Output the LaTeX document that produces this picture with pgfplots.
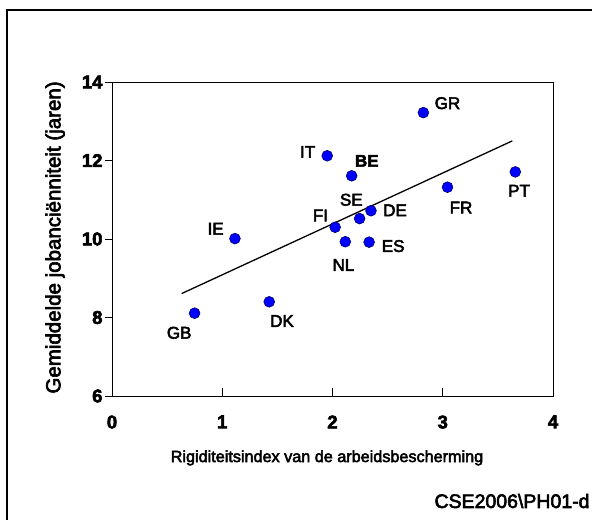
\documentclass[border=0pt]{standalone}
\usepackage{pgfplots}
\pgfplotsset{compat=1.18}
\usepackage{fontspec}
\setmainfont{Liberation Sans}[FakeBold=3]

% Country averages: employment protection index vs. mean job tenure
\pgfplotstableread{
x      y
0.749  8.11
1.426  8.40
1.115  10.01
1.952  12.12
2.174  11.61
2.024  10.30
2.116  9.93
2.246  10.52
2.349  10.72
2.332  9.92
2.824  13.22
3.043  11.32
3.658  11.71
}\tenure

\newcommand{\lbl}{\fontsize{17bp}{20bp}\selectfont}

\begin{document}
\begin{tikzpicture}
\useasboundingbox (0,0) rectangle (592bp,520bp);
\draw[line width=1.6bp] (7bp,-20bp) -- (7bp,510bp) -- (640bp,510bp);
\begin{axis}[
  at={(112bp,124bp)}, anchor=south west,
  scale only axis, width=441bp, height=314bp,
  xmin=0, xmax=4, ymin=6, ymax=14,
  xtick={0,1,2,3,4}, ytick={6,8,10,12,14},
  xtick pos=bottom, ytick pos=left,
  tick align=inside,
  major tick length=7.5bp,
  ytick style={xshift=-7.5bp},
  every tick/.style={black, line width=0.9bp},
  axis line style={line width=0.9bp},
  /pgf/number format/assume math mode=true,
  ticklabel style={font=\bfseries\fontsize{18.5bp}{21bp}\selectfont},
  xticklabel style={yshift=-16bp},
  yticklabel style={xshift=-6bp},
  xlabel={Rigiditeitsindex van de arbeidsbescherming},
  ylabel={Gemiddelde jobanciënniteit (jaren)},
  xlabel style={at={(axis description cs:0.4875,-0.197)}, anchor=center, font=\fontsize{16.2bp}{19bp}\selectfont},
  ylabel style={at={(axis description cs:-0.129,0.505)}, anchor=center, font=\fontsize{20.5bp}{24bp}\selectfont},
  clip=false,
]
% regression line
\addplot[black, line width=1.3bp] coordinates {(0.632,8.61) (3.631,12.50)};
% countries
\addplot[only marks, mark=*, mark size=5.4bp,
  mark options={fill=blue, draw=black!60!blue, line width=0.6bp}] table[x=x, y=y] {\tenure};

\node[font=\lbl] at (axis cs:3.043,13.46) {GR};
\node[font=\lbl] at (axis cs:1.774,12.22) {IT};
\node[font=\lbl\bfseries] at (axis cs:2.311,11.99) {BE};
\node[font=\lbl] at (axis cs:3.692,11.23) {PT};
\node[font=\lbl] at (axis cs:3.166,10.80) {FR};
\node[font=\lbl] at (axis cs:2.171,11.00) {SE};
\node[font=\lbl] at (axis cs:2.567,10.73) {DE};
\node[font=\lbl] at (axis cs:1.891,10.60) {FI};
\node[font=\lbl] at (axis cs:0.940,10.26) {IE};
\node[font=\lbl] at (axis cs:2.099,9.34) {NL};
\node[font=\lbl] at (axis cs:2.550,9.82) {ES};
\node[font=\lbl] at (axis cs:1.542,7.91) {DK};
\node[font=\lbl] at (axis cs:0.609,7.61) {GB};
\end{axis}
\node[anchor=west, font=\fontsize{19.5bp}{22bp}\selectfont] at (431bp,19bp) {CSE2006\textbackslash PH01-d};
\end{tikzpicture}
\end{document}
